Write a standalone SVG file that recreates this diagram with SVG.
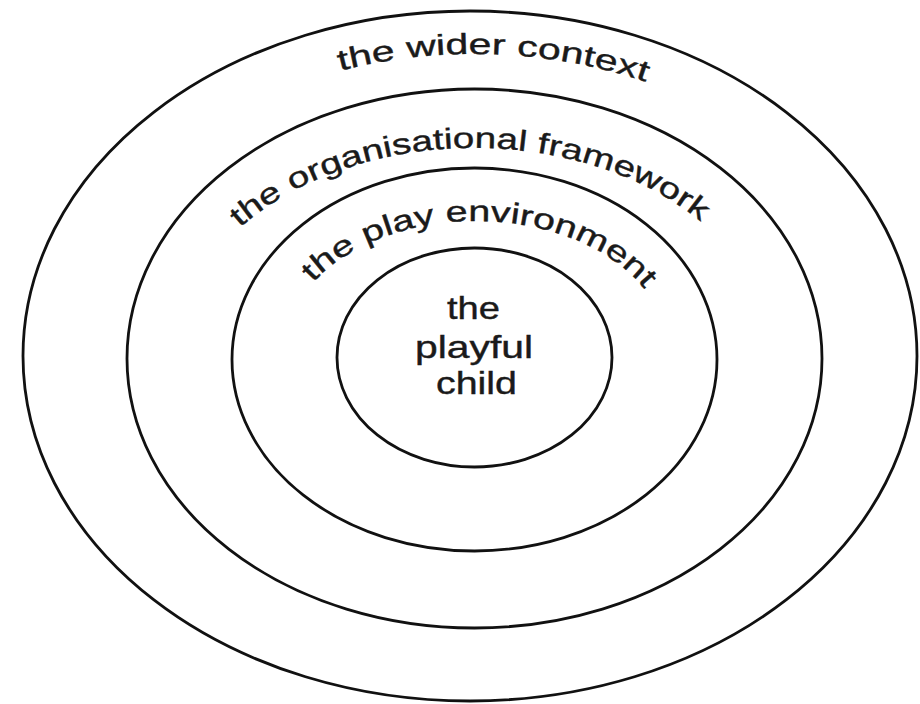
<svg xmlns="http://www.w3.org/2000/svg" width="920" height="704" viewBox="0 0 920 704">
<style>
.ring{fill:none;stroke:#111;stroke-width:2.8}
.lbl{font-family:"Liberation Sans",Arial,sans-serif;fill:#1a1a1a;stroke:#1a1a1a;stroke-width:0.4}
.arc{font-size:29px}
.core{font-size:32px}
</style>
<defs>
<path id="p-wider" d="M 340 70.7 A 410 304 0 0 1 650 83.4"/>
<path id="p-org" d="M 240.1 227.8 A 298 210 0 0 1 705 225.3"/>
<path id="p-play" d="M 313.2 282.6 A 192 131 0 0 1 648.6 294.6"/>
</defs>
<rect width="920" height="704" fill="#fff"/>
<g id="wider-context">
<ellipse class="ring" cx="470" cy="356" rx="447" ry="345"/>
<text class="lbl arc"><textPath href="#p-wider" textLength="310" lengthAdjust="spacingAndGlyphs">the wider context</textPath></text>
</g>
<g id="organisational-framework">
<ellipse class="ring" cx="474.5" cy="358.5" rx="347.5" ry="269.5"/>
<text class="lbl arc"><textPath href="#p-org" textLength="495" lengthAdjust="spacingAndGlyphs">the organisational framework</textPath></text>
</g>
<g id="play-environment">
<ellipse class="ring" cx="474.5" cy="359.5" rx="242.5" ry="191.5"/>
<text class="lbl arc"><textPath href="#p-play" textLength="366" lengthAdjust="spacingAndGlyphs">the play environment</textPath></text>
</g>
<g id="playful-child">
<ellipse class="ring" cx="474.5" cy="357.5" rx="137.5" ry="109.5"/>
<text class="lbl core" x="447" y="319" textLength="53" lengthAdjust="spacingAndGlyphs">the</text>
<text class="lbl core" x="415" y="358" textLength="118" lengthAdjust="spacingAndGlyphs">playful</text>
<text class="lbl core" x="436" y="394" textLength="81" lengthAdjust="spacingAndGlyphs">child</text>
</g>
</svg>
